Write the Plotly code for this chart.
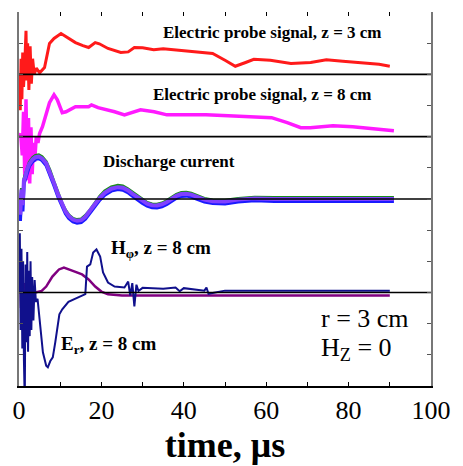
import plotly.graph_objects as go

# ---------------- data ----------------
baselines = [10, 8, 6, 3]

probe3_t = [0, 0.3, 0.5, 0.7, 0.9, 1.1, 1.4, 1.7, 1.9, 2.1, 2.4, 2.7, 3.0, 3.3, 3.7, 4.2, 5.0, 6.2, 7.4, 8.5,
            10.2, 11.5, 13.7, 15.5, 16.9, 18.5, 19.5, 21.6, 24.7, 26.5, 28, 30, 32.7, 35, 39, 44, 47, 50,
            52.5, 55, 57, 61, 66, 70.8, 74.6, 78.6, 82.6, 87.4, 90]
probe3_v = [0, -1.15, 0.5, -0.8, 0.7, -0.4, 0.3, 1.4, -0.2, 1.0, -0.5, 0.9, -0.3, 0.5, 0.0, 0.2, 0.05, 0.22, 0.99, 1.15,
            1.31, 1.2, 1.02, 0.92, 0.86, 1.02, 0.98, 0.83, 0.70, 0.72, 0.86, 0.85, 0.79, 0.82, 0.77, 0.72, 0.67, 0.45,
            0.26, 0.38, 0.48, 0.45, 0.35, 0.38, 0.47, 0.42, 0.37, 0.32, 0.26]

probe8_t = [0, 0.4, 0.8, 1.1, 1.4, 1.7, 2.0, 2.3, 2.6, 2.9, 3.2, 3.5, 3.8, 4.2, 4.6, 5.0, 5.7, 6.5, 7.4, 8.5,
            9.3, 10.5, 11.4, 13.7, 16.9, 17.6, 19.2, 23.2, 25.6, 29.5, 32.8, 35.9, 40.6, 45.4, 50.8, 57.2,
            61.3, 65.1, 68.4, 70.7, 76.2, 81, 86.5, 91]
probe8_v = [0, 0.1, -0.6, 0.8, -1.3, 1.2, -1.4, 0.6, -1.5, 0.3, -1.2, -0.2, -0.8, 0.0, -0.2, 0.1, 0.32, 0.7, 1.09, 1.34,
            1.18, 0.77, 0.80, 0.96, 0.96, 1.02, 0.93, 0.80, 0.70, 0.86, 0.80, 0.70, 0.70, 0.70, 0.67, 0.64,
            0.61, 0.45, 0.29, 0.29, 0.35, 0.32, 0.26, 0.19]

disc_t = [0, 0.3, 0.6, 0.9, 1.2, 1.5, 1.9, 2.5, 3.3, 4.0, 4.8, 5.6, 6.6, 7.5, 8.5, 9.5, 10.5, 11.3, 12.1, 13.1,
          14.1, 15.1, 16.1, 17.3, 18.5, 19.6, 20.8, 22.4, 24.0, 25.2, 26.4, 27.5, 28.7, 29.9, 31.1, 32.3, 33.5,
          34.7, 35.9, 37.0, 38.2, 39.4, 40.6, 41.8, 43.0, 45.0, 47.0, 50.0, 53.2, 57.2, 62, 70, 80, 91]
disc_purple = [0, -0.5, 0.3, -0.2, 0.6, 0.7, 0.93, 1.12, 1.27, 1.34, 1.36, 1.3, 1.15, 0.88, 0.51, 0.14, -0.19, -0.40,
               -0.55, -0.66, -0.70, -0.68, -0.57, -0.38, -0.15, 0.04, 0.20, 0.33, 0.38, 0.36, 0.28, 0.17, 0.05,
               -0.06, -0.15, -0.20, -0.21, -0.17, -0.10, 0.0, 0.10, 0.16, 0.17, 0.14, 0.08, -0.02, -0.07, -0.08,
               -0.02, 0.02, 0.0, 0.0, 0.0, 0.0]
disc_green = [0, -0.4, 0.35, -0.1, 0.65, 0.78, 1.0, 1.18, 1.33, 1.4, 1.42, 1.36, 1.2, 0.93, 0.55, 0.18, -0.15, -0.36,
              -0.51, -0.62, -0.66, -0.64, -0.53, -0.34, -0.1, 0.09, 0.26, 0.39, 0.44, 0.42, 0.33, 0.22, 0.1,
              -0.02, -0.11, -0.16, -0.17, -0.13, -0.05, 0.05, 0.15, 0.21, 0.22, 0.19, 0.12, 0.02, -0.03, -0.04,
              0.02, 0.06, 0.05, 0.05, 0.05, 0.05]
disc_blue = [0, -0.7, 0.2, -0.4, 0.5, 0.62, 0.86, 1.05, 1.2, 1.28, 1.3, 1.24, 1.08, 0.8, 0.44, 0.07, -0.26, -0.47,
             -0.62, -0.73, -0.77, -0.75, -0.64, -0.45, -0.22, -0.03, 0.13, 0.26, 0.31, 0.29, 0.21, 0.1, -0.02,
             -0.13, -0.22, -0.27, -0.28, -0.24, -0.17, -0.07, 0.03, 0.09, 0.10, 0.07, 0.01, -0.09, -0.14, -0.15,
             -0.09, -0.05, -0.07, -0.07, -0.07, -0.07]

hphi_t = [0, 0.3, 0.5, 0.8, 1.1, 1.4, 1.8, 2.5, 4, 5.5, 6.6, 8.1, 9.7, 10.9, 12.9, 15.3, 16.9, 18.5, 20,
          21.6, 25, 40, 60, 80, 90]
hphi_v = [0, 0.9, -0.5, 0.6, -0.3, 0.3, -0.1, 0.05, 0.0, 0.05, 0.19, 0.51, 0.74, 0.8, 0.7, 0.58, 0.42, 0.19, 0.03,
          -0.06, -0.1, -0.1, -0.1, -0.1, -0.1]

er_t = [0, 0.2, 0.4, 0.6, 0.8, 1.0, 1.2, 1.4, 1.6, 1.8, 2.0, 2.2, 2.4, 2.6, 2.8, 3.0, 3.2, 3.5, 3.8, 4.1,
        4.5, 5.0, 5.8, 6.6, 7.0, 7.6, 8.2, 8.8, 9.3, 9.8, 10.5, 12, 14.5, 16.1, 16.5, 17.3, 18, 18.8, 19.7,
        20.4, 21.6, 23.2, 25.6, 26.5, 27, 27.5, 28, 28.5, 29, 30, 35, 38, 39, 40, 45, 45.5, 46, 50, 60, 70, 80, 90]
er_v = [0, 1.9, -1.2, 1.4, -1.8, 1.0, -2.2, -3.5, 0.9, -1.6, 1.3, -1.9, 0.7, -1.4, 1.0, -1.2, 0.5, -0.9, 0.4, -0.3,
        -0.2, -0.9, -1.92, -2.35, -2.4, -2.2, -2.08, -1.6, -1.09, -0.7, -0.54, -0.3, -0.15, -0.05, 0.83, 0.9, 1.28,
        1.38, 1.15, 0.64, 0.32, 0.19, 0.16, 0.35, -0.1, 0.3, -0.45, 0.25, 0.05, 0.15, 0.12, 0.16, 0.04, 0.14, 0.06,
        0.16, -0.04, 0.06, 0.06, 0.06, 0.06, 0.06]

x_tickvals = [0, 10, 20, 30, 40, 50, 60, 70, 80, 90, 100]
x_ticktext = ["0", "", "20", "", "40", "", "60", "", "80", "", "100"]
y_tickvals = list(range(0, 13))

# ---------------- figure ----------------
fig = go.Figure()

def add(t, v, base, color, width):
    fig.add_trace(go.Scatter(x=t, y=[base + a for a in v], mode="lines",
                             line=dict(color=color, width=width), showlegend=False, hoverinfo="skip"))

add(probe3_t, probe3_v, baselines[0], "#ff1a1a", 3)
add(probe8_t, probe8_v, baselines[1], "#ff1aff", 3.5)
add(disc_t, disc_green, baselines[2], "#1a8c1a", 3)
add(disc_t, disc_blue, baselines[2], "#1a1aff", 3.5)
add(disc_t, disc_purple, baselines[2], "#8040ff", 4)
add(hphi_t, hphi_v, baselines[3], "#800080", 2.5)
add(er_t, er_v, baselines[3], "#10108c", 2)

for b in baselines:
    fig.add_trace(go.Scatter(x=[0, 100], y=[b, b], mode="lines",
                             line=dict(color="black", width=1.6), showlegend=False, hoverinfo="skip"))

serif = "Liberation Serif"
ann = [
    dict(x=61.5, y=11.33, text="<b>Electric probe signal, z = 3 cm</b>", size=17),
    dict(x=59.1, y=9.34, text="<b>Electric probe signal, z = 8 cm</b>", size=17),
    dict(x=36.3, y=7.2, text="<b>Discharge current</b>", size=17),
    dict(x=34.4, y=4.38, text="<b>H<sub>φ</sub>, z = 8 cm</b>", size=19),
    dict(x=21.9, y=1.31, text="<b>E<sub>r</sub>, z = 8 cm</b>", size=19),
]
for a in ann:
    fig.add_annotation(x=a["x"], y=a["y"], xref="x", yref="y", text=a["text"], showarrow=False,
                       font=dict(family=serif, size=a["size"], color="black"))
fig.add_annotation(x=72.7, y=2.18, xref="x", yref="y", xanchor="left", text="r = 3 cm", showarrow=False,
                   font=dict(family=serif, size=26, color="black"))
fig.add_annotation(x=72.7, y=1.18, xref="x", yref="y", xanchor="left", text="H<sub>Z</sub> = 0", showarrow=False,
                   font=dict(family=serif, size=26, color="black"))

fig.update_layout(
    width=463, height=466,
    margin=dict(l=19, r=23, t=12, b=79),
    paper_bgcolor="white", plot_bgcolor="white",
    xaxis=dict(range=[0, 100], tickmode="array", tickvals=x_tickvals, ticktext=x_ticktext,
               ticks="inside", ticklen=4, tickcolor="black", showline=True, linecolor="black", linewidth=1.5,
               showgrid=False, zeroline=False,
               tickfont=dict(family=serif, size=26, color="black"),
               title=dict(text="<b>time, μs</b>", font=dict(family=serif, size=36, color="black"), standoff=4)),
    xaxis2=dict(range=[0, 100], overlaying="x", side="top", tickmode="array", tickvals=x_tickvals,
                ticks="inside", ticklen=4, tickcolor="black", showticklabels=False, showline=False,
                showgrid=False, zeroline=False),
    yaxis=dict(range=[0, 12], tickmode="array", tickvals=y_tickvals, showticklabels=False,
               ticks="inside", ticklen=4, tickcolor="#555555", showline=True, linecolor="#777777", linewidth=2,
               mirror="ticks", showgrid=False, zeroline=False),
)
# dummy trace to activate top axis
fig.add_trace(go.Scatter(x=[None], y=[None], xaxis="x2", showlegend=False, hoverinfo="skip"))

fig.write_html("out.html")
